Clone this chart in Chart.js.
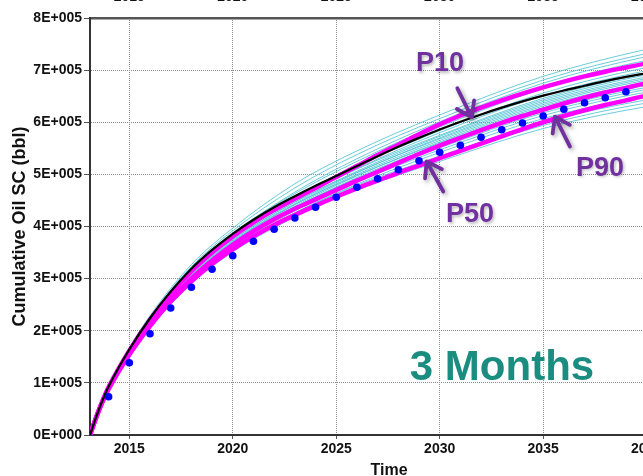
<!DOCTYPE html>
<html>
<head>
<meta charset="utf-8">
<script src="https://cdn.jsdelivr.net/npm/chart.js@4.4.1/dist/chart.umd.min.js"></script>
<style>
  html, body { margin: 0; padding: 0; background: #fff; overflow: hidden; width: 643px; height: 476px; }
  #wrap { position: absolute; left: 0; top: -30px; width: 720px; height: 512px; }
  canvas { display: block; }
</style>
</head>
<body>
<div id="wrap"><canvas id="c" width="720" height="512"></canvas></div>
<script>
// ---- Axis ticks ----
const xTickValues = [2015, 2020, 2025, 2030, 2035, 2040];
const yTickValues = [0, 100000, 200000, 300000, 400000, 500000, 600000, 700000, 800000];
const yTickLabels = ['0E+000', '1E+005', '2E+005', '3E+005', '4E+005', '5E+005', '6E+005', '7E+005', '8E+005'];

// ---- Summary curves (cumulative oil, bbl) ----
const curveYears = [2013.1, 2013.4, 2013.7, 2014, 2015, 2016, 2017, 2018, 2019, 2020, 2021, 2022, 2023, 2024, 2025, 2026,
                    2027, 2028, 2029, 2030, 2031, 2032, 2033, 2034, 2035, 2036, 2037, 2038, 2039, 2040, 2041, 2042];
const baseOil = [0, 35000, 66000, 93000, 164000, 224000, 275000, 319000, 355000, 386000, 413000, 437000, 458000, 478000, 497000, 516000,
                 535000, 553000, 570000, 586000, 601000, 615000, 628000, 640000, 651000, 661000, 670000, 679000, 687000, 694000, 701000, 707000];
const p10Oil  = [0, 34000, 65000, 92000, 162000, 221000, 271000, 314000, 350000, 381000, 408000, 432000, 453000, 474000, 495000, 516000,
                 537000, 557000, 577000, 596000, 613000, 628000, 642000, 655000, 667000, 678000, 688000, 697000, 705000, 713000, 720000, 727000];
const p50Oil  = [0, 34000, 64000, 90000, 157000, 213000, 260000, 300000, 335000, 365000, 391000, 414000, 434000, 452000, 470000, 488000,
                 505000, 522000, 539000, 555000, 570000, 585000, 599000, 612000, 624000, 636000, 647000, 657000, 666000, 675000, 683000, 691000];
const p90Oil  = [0, 33000, 63000, 88000, 154000, 209000, 256000, 295000, 328000, 356000, 381000, 403000, 422000, 440000, 457000, 473000,
                 488000, 503000, 517000, 531000, 545000, 559000, 573000, 587000, 600000, 612000, 623000, 633000, 642000, 651000, 659000, 667000];

// ---- Field history, yearly ----
const obsYears = [2014, 2015, 2016, 2017, 2018, 2019, 2020, 2021, 2022, 2023, 2024, 2025, 2026, 2027,
                  2028, 2029, 2030, 2031, 2032, 2033, 2034, 2035, 2036, 2037, 2038, 2039, 2040];
const obsOil = [73500, 138700, 194300, 243600, 283400, 317900, 344000, 371600, 394600, 416300, 436800, 456000, 475200, 491700,
                509000, 526200, 542400, 555800, 571100, 585700, 598600, 612000, 624900, 637500, 647100, 658600, 669600];

// ---- Ensemble realisations ----
const ensYears = [2013.1, 2013.5, 2014, 2015, 2016, 2018, 2020, 2023, 2026, 2030, 2035, 2040, 2042];
const run01 = [0, 46000, 94000, 167000, 229000, 327000, 397000, 482000, 545000, 614000, 688000, 740000, 755000];
const run02 = [0, 46000, 93000, 165000, 227000, 323000, 392000, 474000, 538000, 607000, 681000, 732000, 747000];
const run03 = [0, 45000, 93000, 163000, 223000, 318000, 386000, 466000, 530000, 601000, 675000, 726000, 740000];
const run04 = [0, 46000, 93000, 164000, 224000, 320000, 388000, 463000, 525000, 596000, 669000, 719000, 733000];
const run05 = [0, 45000, 92000, 162000, 221000, 315000, 381000, 456000, 518000, 591000, 664000, 714000, 727000];
const run06 = [0, 45000, 92000, 162000, 222000, 316000, 383000, 456000, 516000, 584000, 656000, 705000, 718000];
const run07 = [0, 44000, 91000, 160000, 219000, 311000, 377000, 450000, 511000, 580000, 651000, 699000, 712000];
const run08 = [0, 45000, 91000, 161000, 220000, 312000, 379000, 451000, 510000, 575000, 646000, 694000, 707000];
const run09 = [0, 44000, 90000, 159000, 217000, 309000, 374000, 447000, 506000, 573000, 643000, 691000, 703000];
const run10 = [0, 44000, 90000, 159000, 216000, 307000, 372000, 444000, 503000, 570000, 640000, 687000, 700000];
const run11 = [0, 44000, 91000, 160000, 218000, 310000, 375000, 447000, 504000, 568000, 637000, 684000, 696000];
const run12 = [0, 44000, 90000, 158000, 215000, 305000, 370000, 442000, 500000, 565000, 634000, 681000, 693000];
const run13 = [0, 44000, 89000, 157000, 214000, 304000, 368000, 439000, 497000, 562000, 631000, 677000, 689000];
const run14 = [0, 44000, 90000, 158000, 216000, 306000, 371000, 442000, 498000, 560000, 628000, 674000, 686000];
const run15 = [0, 43000, 89000, 156000, 213000, 302000, 366000, 436000, 494000, 557000, 625000, 671000, 683000];
const run16 = [0, 43000, 88000, 156000, 212000, 300000, 364000, 434000, 491000, 555000, 622000, 667000, 679000];
const run17 = [0, 44000, 89000, 157000, 213000, 303000, 367000, 437000, 492000, 551000, 618000, 663000, 675000];
const run18 = [0, 43000, 88000, 154000, 210000, 297000, 360000, 430000, 485000, 547000, 613000, 658000, 669000];
const run19 = [0, 43000, 87000, 153000, 208000, 295000, 357000, 426000, 481000, 542000, 607000, 651000, 662000];
const run20 = [0, 43000, 87000, 154000, 209000, 296000, 359000, 426000, 479000, 535000, 600000, 643000, 654000];
const run21 = [0, 42000, 86000, 152000, 206000, 292000, 354000, 421000, 474000, 530000, 594000, 637000, 647000];
const run22 = [0, 42000, 86000, 151000, 205000, 290000, 351000, 418000, 470000, 525000, 588000, 630000, 640000];
const ensembleRuns = [run01, run02, run03, run04, run05, run06, run07, run08, run09, run10, run11,
                      run12, run13, run14, run15, run16, run17, run18, run19, run20, run21, run22];

// ---- Colours ----
const MAGENTA = '#ff00ff';
const CYAN = 'rgba(80,195,210,0.85)';
const PURPLE = '#7030a0';
const TEAL = '#1b8c80';
const FONT = "'Liberation Sans', Arial, Helvetica, sans-serif";

const toPoints = (xs, ys) => xs.map((t, i) => ({ x: t, y: ys[i] }));

const lineSet = (label, vals, color, width, order) => ({
  label, data: toPoints(curveYears, vals), showLine: true, borderColor: color, borderWidth: width,
  pointRadius: 0, cubicInterpolationMode: 'monotone', order
});

const datasets = [];
ensembleRuns.forEach((run, i) => {
  datasets.push({
    label: 'Run ' + (i + 1), data: toPoints(ensYears, run), showLine: true, borderColor: CYAN,
    borderWidth: 1, pointRadius: 0, cubicInterpolationMode: 'monotone', order: 4
  });
});
datasets.push(lineSet('P90', p90Oil, MAGENTA, 4.5, 3));
datasets.push(lineSet('P50', p50Oil, MAGENTA, 4.5, 3));
datasets.push(lineSet('P10', p10Oil, MAGENTA, 4.5, 3));
datasets.push(lineSet('Base', baseOil, '#000000', 2.2, 2));
datasets.push({
  label: 'History', data: toPoints(obsYears, obsOil), showLine: false,
  pointRadius: 3.8, pointBackgroundColor: '#0000ff', pointBorderWidth: 0, order: 1
});

// Arrows and percentile captions, anchored in data units
const arrowNotes = [
  { year: 2031.55, value: 609500, dx: -14.4, dy: -29 },
  { year: 2029.37, value: 524700, dx: 16.6, dy: 30 },
  { year: 2035.57, value: 610800, dx: 15, dy: 30 }
];
const captionNotes = [
  { text: 'P10', year: 2030.02, value: 711800 },
  { text: 'P50', year: 2031.47, value: 422000 },
  { text: 'P90', year: 2037.75, value: 512000 }
];

const notesPlugin = {
  id: 'notes',
  afterDatasetsDraw(chart) {
    const { ctx, scales: { x, y } } = chart;
    ctx.save();
    ctx.shadowColor = 'rgba(0,0,0,0.35)';
    ctx.shadowBlur = 4;
    ctx.shadowOffsetX = 2;
    ctx.shadowOffsetY = 2;
    ctx.strokeStyle = PURPLE;
    ctx.lineWidth = 3.8;
    ctx.lineCap = 'round';
    ctx.lineJoin = 'round';
    arrowNotes.forEach(a => {
      const tx = x.getPixelForValue(a.year), ty = y.getPixelForValue(a.value);
      const sx = tx + a.dx, sy = ty + a.dy;
      const ang = Math.atan2(sy - ty, sx - tx);
      const barb = 17, spread = 0.6;
      ctx.beginPath();
      ctx.moveTo(sx, sy);
      ctx.lineTo(tx, ty);
      ctx.moveTo(tx + barb * Math.cos(ang + spread), ty + barb * Math.sin(ang + spread));
      ctx.lineTo(tx, ty);
      ctx.lineTo(tx + barb * Math.cos(ang - spread), ty + barb * Math.sin(ang - spread));
      ctx.stroke();
    });
    ctx.shadowColor = 'rgba(0,0,0,0.25)';
    ctx.shadowBlur = 3;
    ctx.shadowOffsetX = 1.5;
    ctx.shadowOffsetY = 1.5;
    ctx.fillStyle = PURPLE;
    ctx.font = 'bold 27px ' + FONT;
    ctx.textAlign = 'center';
    ctx.textBaseline = 'middle';
    captionNotes.forEach(c => {
      ctx.fillText(c.text, x.getPixelForValue(c.year), y.getPixelForValue(c.value));
    });
    ctx.shadowColor = 'rgba(0,0,0,0)';
    ctx.fillStyle = TEAL;
    ctx.font = 'bold 42px ' + FONT;
    ctx.fillText('3 Months', x.getPixelForValue(2033.01), y.getPixelForValue(128500));
    ctx.restore();
  }
};

const gridStyle = { color: '#8c8c8c', lineWidth: 1, tickColor: '#555', tickWidth: 1, tickBorderDash: [] };
const tickFont = { family: FONT, size: 14, weight: 'bold' };
const setXTicks = s => { s.ticks = xTickValues.map(v => ({ value: v })); };

new Chart(document.getElementById('c'), {
  type: 'scatter',
  data: { datasets },
  plugins: [notesPlugin],
  options: {
    responsive: false,
    devicePixelRatio: 1,
    animation: false,
    layout: { padding: { left: 0, right: 32, top: 0, bottom: 0 } },
    plugins: { legend: { display: false }, tooltip: { enabled: false } },
    scales: {
      x: {
        type: 'linear', position: 'bottom', min: 2013.1, max: 2042,
        afterBuildTicks: setXTicks,
        afterFit: s => { s.height = 47; },
        grid: { ...gridStyle, drawTicks: true, tickLength: 4 },
        border: { display: true, color: '#333', width: 2, dash: [1, 1] },
        ticks: { color: '#111', font: tickFont, padding: 2, maxRotation: 0, autoSkip: false, callback: v => String(v) },
        title: { display: true, text: 'Time', color: '#111', font: { family: FONT, size: 16, weight: 'bold' }, padding: { top: 0, bottom: 2 } }
      },
      x2: {
        type: 'linear', position: 'top', min: 2013.1, max: 2042,
        afterBuildTicks: setXTicks,
        afterFit: s => { s.height = 48; },
        grid: { drawOnChartArea: false, drawTicks: false },
        border: { display: true, color: '#555', width: 2.5 },
        ticks: { color: '#111', font: tickFont, padding: 12, maxRotation: 0, autoSkip: false, callback: v => String(v) }
      },
      y: {
        type: 'linear', position: 'left', min: 0, max: 800000,
        afterBuildTicks: s => { s.ticks = yTickValues.map(v => ({ value: v })); },
        afterFit: s => { s.width = 90; },
        grid: { ...gridStyle, drawTicks: true, tickLength: 6 },
        border: { display: true, color: '#333', width: 2, dash: [1, 1] },
        ticks: { color: '#111', font: tickFont, padding: 2, callback: (v, i) => yTickLabels[i] },
        title: { display: true, text: 'Cumulative Oil SC (bbl)', color: '#111', font: { family: FONT, size: 18, weight: 'bold' }, padding: { top: 9, bottom: 0 } }
      }
    }
  }
});
</script>
</body>
</html>
